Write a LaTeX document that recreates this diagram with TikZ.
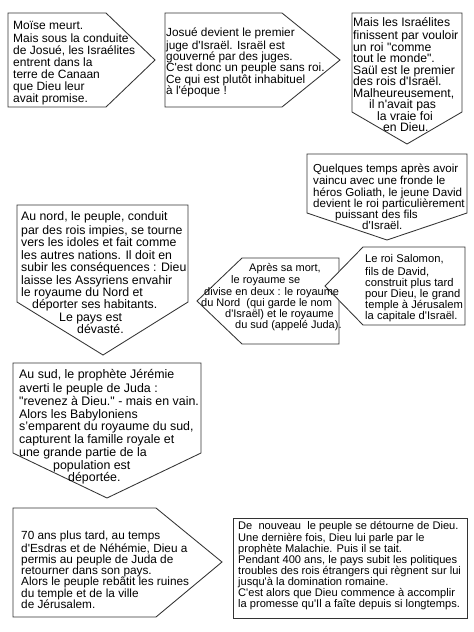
\documentclass[tikz,border=0pt]{standalone}
\usepackage{fontspec}
\setmainfont{Liberation Sans}
\newfontfamily\arialish{Liberation Sans}
\newcommand{\setfs}[2]{\arialish\fontsize{#1}{#2}\selectfont}
\begin{document}
\begin{tikzpicture}[x=1pt,y=-1pt,
  shapebox/.style={draw=black!80, line width=0.85pt, fill=white, line join=miter},
  txt/.style={anchor=north west, inner sep=0pt, align=left}]
\path[use as bounding box, fill=white] (0,0) rectangle (474,632);
% shapes
\draw[shapebox] (8,13) -- (106,13) -- (155,60) -- (106,107) -- (8,107) -- cycle;
\draw[shapebox] (165,13) -- (282,13) -- (340,60) -- (282,107) -- (165,107) -- cycle;
\draw[shapebox] (352,13) -- (462,13) -- (462,112) -- (407,144) -- (352,112) -- cycle;
\draw[shapebox] (307,154) -- (467,154) -- (467,213) -- (387,240) -- (307,213) -- cycle;
\draw[shapebox] (17,205) -- (188,205) -- (188,302) -- (103,355) -- (17,302) -- cycle;
\draw[shapebox] (197,301) -- (242,258) -- (339,258) -- (339,344) -- (242,344) -- cycle;
\draw[shapebox] (325,286) -- (363,247) -- (465,247) -- (465,325) -- (363,325) -- cycle;
\draw[shapebox] (13,363) -- (201,363) -- (201,453) -- (107,498) -- (13,453) -- cycle;
\draw[shapebox] (13,508) -- (156,508) -- (222,562) -- (156,617) -- (13,617) -- cycle;
\draw[shapebox] (233,518) rectangle (467,618);
% texts
\node[txt, font=\setfs{12}{12}] (t1) at (13,20.9) {\strut Moïse meurt.\\Mais sous la conduite\\de Josué, les Israélites\\entrent dans la\\terre de Canaan\\que Dieu leur\\avait promise.};
\node[txt, font=\setfs{11.8}{11.3}] (t2) at (166,27.3) {\strut Josué devient le premier\\juge d'Israël. Israël est\\gouverné par des juges.\\C'est donc un peuple sans roi.\\Ce qui est plutôt inhabituel\\à l'époque !};
\node[txt, font=\setfs{12.2}{11.5}] (t3) at (353,17.4) {\strut Mais les Israélites\\finissent par vouloir\\un roi "comme\\tout le monde".\\Saül est le premier\\des rois d'Israël.\\Malheureusement,\\\hspace*{16pt}il n'avait pas\\\hspace*{24pt}la vraie foi\\\hspace*{30pt}en Dieu.};
\node[txt, font=\setfs{11.6}{11.2}] (t4) at (313,163.4) {\strut Quelques temps après avoir\\vaincu avec une fronde le\\héros Goliath, le jeune David\\devient le roi particulièrement\\\hspace*{22pt}puissant des fils\\\hspace*{49pt}d'Israël.};
\node[txt, font=\setfs{12.3}{12.4}] (t5) at (21,211.7) {\strut Au nord, le peuple, conduit\\par des rois impies, se tourne\\vers les idoles et fait comme\\les autres nations. Il doit en\\subir les conséquences : Dieu\\laisse les Assyriens envahir\\le royaume du Nord et\\\hspace*{11pt}déporter ses habitants.\\\hspace*{38pt}Le pays est\\\hspace*{56pt}dévasté.};
\node[txt, font=\setfs{11}{11.2}] (t6) at (201,263.2) {\strut\hspace*{48pt}Après sa mort,\\\hspace*{30pt}le royaume se\\\hspace*{3pt}divise en deux : le royaume\\du Nord\ \ (qui garde le nom\\\hspace*{24pt}d'Israël) et le royaume\\\hspace*{34pt}du sud (appelé Juda).};
\node[txt, font=\setfs{11.2}{11}] (t7) at (365,254.3) {\strut Le roi Salomon,\\fils de David,\\construit plus tard\\pour Dieu, le grand\\temple à Jérusalem\\la capitale d'Israël.};
\node[txt, font=\setfs{12.4}{12.75}] (t8) at (19,369.6) {\strut Au sud, le prophète Jérémie\\averti le peuple de Juda :\\"revenez à Dieu." - mais en vain.\\Alors les Babyloniens\\s’emparent du royaume du sud,\\capturent la famille royale et\\une grande partie de la\\\hspace*{34pt}population est\\\hspace*{49pt}déportée.};
\node[txt, font=\setfs{11.8}{11.2}] (t9) at (21,530.4) {\strut 70 ans plus tard, au temps\\d'Esdras et de Néhémie, Dieu a\\permis au peuple de Juda de\\retourner dans son pays.\\Alors le peuple rebâtit les ruines\\du temple et de la ville\\de Jérusalem.};
\node[txt, font=\setfs{11.1}{10.9}] (t10) at (238,521) {\strut De\ \ nouveau\ \ le peuple se détourne de Dieu.\\Une dernière fois, Dieu lui parle par le\\prophète Malachie. Puis il se tait.\\Pendant 400 ans, le pays subit les politiques\\troubles des rois étrangers qui règnent sur lui\\jusqu'à la domination romaine.\\C'est alors que Dieu commence à accomplir\\la promesse qu'Il a faîte depuis si longtemps.};
\end{tikzpicture}
\end{document}
